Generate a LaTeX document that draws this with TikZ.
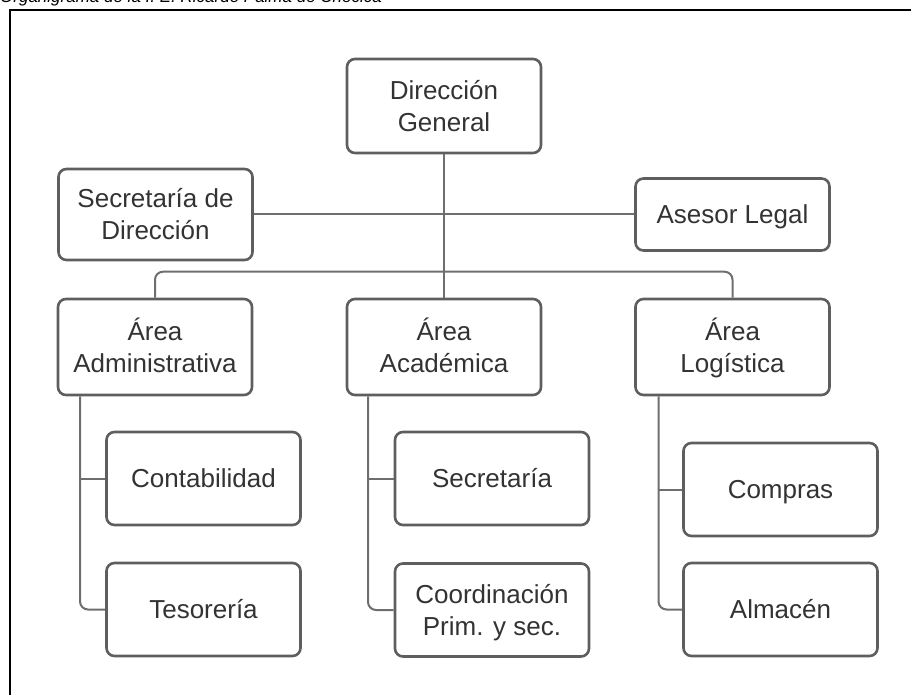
\documentclass[tikz,border=0pt]{standalone}
\usepackage{fontspec}
\setmainfont{Liberation Sans}
\definecolor{boxgray}{HTML}{5E5E5E}
\definecolor{linkgray}{HTML}{6E6E6E}
\definecolor{txt}{HTML}{333333}
% line strut: fixed height and depth so every label sits at the same level
\newcommand{\ls}{\rule[-6.6pt]{0pt}{32pt}}
\begin{document}
\begin{tikzpicture}[x=1pt,y=-1pt,
  box/.style={draw=boxgray, line width=2.6pt, rounded corners=8pt, fill=white,
    text=txt, align=center, font=\fontsize{26}{32}\selectfont,
    minimum width=194pt, minimum height=94pt, inner sep=0pt},
  link/.style={draw=linkgray, line width=2pt, rounded corners=8pt},
  frame/.style={draw=black, line width=2.5pt}]
\useasboundingbox (0,0) rectangle (911,695);
\clip (0,0) rectangle (911,695);

% caption and page frame
\node[anchor=base west, inner sep=0pt, text=black,
  font=\itshape\fontsize{17}{20}\selectfont] (cap) at (0,3)
  {Organigrama de la I. E. Ricardo Palma de Chocica};
\draw[frame] (10,720) -- (10,10) -- (940,10);

% top level
\node[box] (dg) at (444,106) {Dirección\ls\\General\ls};
\node[box, minimum height=91pt] (sd) at (155.5,214.5) {Secretaría de\ls\\Dirección\ls};
\node[box, minimum height=72pt] (al) at (732.5,214.5) {Asesor Legal\ls};

% areas
\node[box, minimum height=96pt] (aa) at (155,347) {Área\ls\\Administrativa\ls};
\node[box, minimum height=96pt] (ac) at (444,347) {Área\ls\\Académica\ls};
\node[box, minimum height=96pt] (alog) at (732.5,347) {Área\ls\\Logística\ls};

% units
\node[box, minimum height=93pt] (c1) at (203.5,478.5) {Contabilidad\ls};
\node[box, minimum height=93pt] (c2) at (203.5,609.5) {Tesorería\ls};
\node[box, minimum height=93pt] (s1) at (492,478.5) {Secretaría\ls};
\node[box, minimum height=93pt] (s2) at (492,610) {Coordinación\ls\\Prim. y sec.\ls};
\node[box, minimum height=93pt] (l1) at (780.5,489.5) {Compras\ls};
\node[box, minimum height=93pt] (l2) at (780.5,609.5) {Almacén\ls};

% trunk lines under each area
\coordinate (ta) at ([xshift=-75pt]aa.south);
\coordinate (tc) at ([xshift=-76pt]ac.south);
\coordinate (tl) at ([xshift=-74pt]alog.south);

% connectors
\draw[link] (dg.south) -- (ac.north);
\draw[link] (sd.east) -- (al.west);
\draw[link] (aa.north) -- ++(0,-26) -| (alog.north);

\draw[link] (ta) |- (c2.west);
\draw[link] (c1.west) -- (c1.west -| ta);
\draw[link] (tc) |- (s2.west);
\draw[link] (s1.west) -- (s1.west -| tc);
\draw[link] (tl) |- (l2.west);
\draw[link] (l1.west) -- (l1.west -| tl);
\end{tikzpicture}
\end{document}
